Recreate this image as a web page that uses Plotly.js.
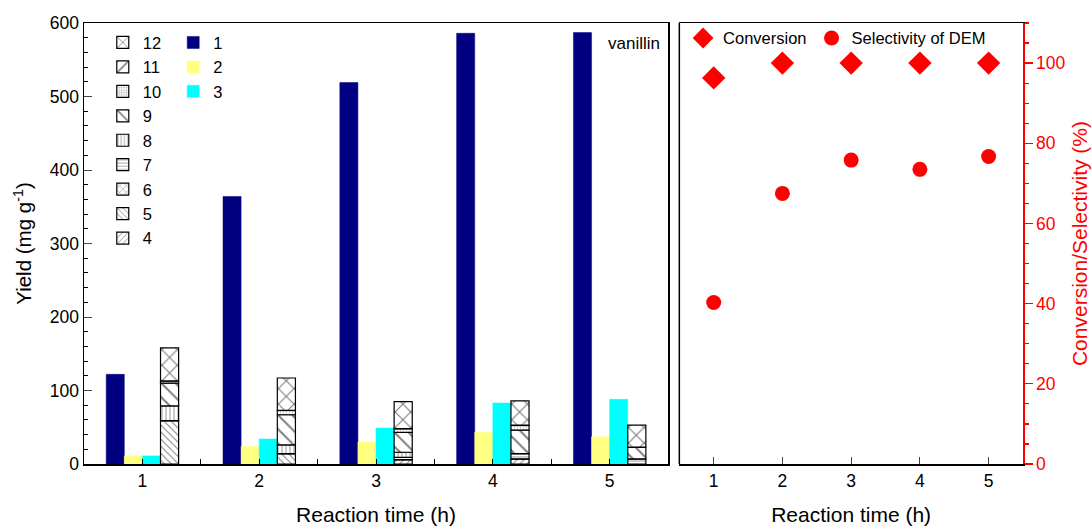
<!DOCTYPE html>
<html>
<head>
<meta charset="utf-8">
<script src="https://cdn.plot.ly/plotly-3.0.1.min.js"></script>
<style>html,body{margin:0;padding:0;background:#fff;}#chart{width:1092px;height:526px;}</style>
</head>
<body>
<div id="chart"></div>
<script>
// Reaction time (h)
const times = [1, 2, 3, 4, 5];
// Yields (mg g^-1) of products 1-3
const y1 = [122, 364, 519, 586, 587];
const y2 = [11, 24, 30, 43, 37];
const y3 = [11, 34, 49, 83, 88];
// Stacked minor products 4-12 (bottom to top)
const y4 = [0, 0, 6, 7, 0];
const y5 = [59, 14, 0, 0, 0];
const y6 = [0, 0, 0, 0, 0];
const y7 = [0, 0, 3, 7, 7];
const y8 = [20, 12, 7, 0, 0];
const y9 = [31, 41, 27, 32, 16];
const y10 = [3, 6, 5, 7, 0];
const y11 = [0, 0, 0, 0, 0];
const y12 = [45, 44, 37, 33, 30];
// Conversion and selectivity (%)
const conversion = [96.3, 100, 100, 100, 100];
const selectivity = [40.3, 67.5, 75.8, 73.5, 76.7];

const stackNames = ['4','5','6','7','8','9','10','11','12'];
const stackData = [y4, y5, y6, y7, y8, y9, y10, y11, y12];
const stackPatterns = [
  {shape: '/', size: 5}, {shape: '\\', size: 5}, {shape: 'x', size: 6},
  {shape: '-', size: 4}, {shape: '|', size: 4}, {shape: '\\', size: 10},
  {shape: '+', size: 3}, {shape: '/', size: 10}, {shape: 'x', size: 11}
];

const W = 0.155;
const font = 'Liberation Sans, Arial, sans-serif';
const traces = [];

const solid = [[y1, '1', '#000080', -2*W], [y2, '2', '#FFFF80', -W], [y3, '3', '#00FFFF', 0]];
solid.forEach(([arr, nm, col, off]) => {
  traces.push({type: 'bar', x: times, y: arr, name: nm, width: W, offset: off,
    marker: {color: col, line: {color: col, width: 0.5}},
    xaxis: 'x', yaxis: 'y', legend: 'legend2'});
});

let base = times.map(() => 0);
stackData.forEach((arr, i) => {
  traces.push({type: 'bar', x: times, y: arr, base: base.slice(), name: stackNames[i],
    width: W, offset: W,
    marker: {color: 'white', line: {color: 'black', width: 1.2},
      pattern: {shape: stackPatterns[i].shape, size: stackPatterns[i].size, solidity: 0.2,
        fgcolor: 'black', bgcolor: 'white', fillmode: 'overlay'}},
    xaxis: 'x', yaxis: 'y', legend: 'legend'});
  base = base.map((b, k) => b + arr[k]);
});

traces.push({type: 'scatter', mode: 'markers', x: times, y: conversion, name: 'Conversion',
  marker: {symbol: 'diamond', size: 18, color: '#FF0000'}, xaxis: 'x2', yaxis: 'y2', legend: 'legend3'});
traces.push({type: 'scatter', mode: 'markers', x: times, y: selectivity, name: 'Selectivity of DEM',
  marker: {symbol: 'circle', size: 15, color: '#FF0000'}, xaxis: 'x2', yaxis: 'y2', legend: 'legend3'});

const layout = {
  width: 1092, height: 526,
  margin: {l: 84, r: 69, t: 23, b: 62},
  paper_bgcolor: 'white', plot_bgcolor: 'white',
  font: {family: font, size: 17, color: 'black'},
  barmode: 'overlay',
  showlegend: true,
  xaxis: {domain: [0, 0.622], range: [0.5, 5.5], tickvals: times, ticktext: times.map(String),
    ticks: 'inside', ticklen: 0, showgrid: false, zeroline: false,
    showline: true, linecolor: 'black', linewidth: 1.5, mirror: true,
    minor: {dtick: 0.5, ticks: 'inside', ticklen: 5, tickcolor: 'black', showgrid: false},
    tickfont: {size: 17.5},
    title: {text: 'Reaction time (h)', font: {size: 21}, standoff: 18}},
  yaxis: {domain: [0, 1], range: [0, 600], dtick: 100, ticks: 'inside', ticklen: 8,
    showgrid: false, zeroline: false, showline: true, linecolor: 'black', linewidth: 1.5, mirror: true,
    minor: {dtick: 20, ticks: 'inside', ticklen: 4, tickcolor: 'black', showgrid: false},
    tickfont: {size: 17.5},
    title: {text: 'Yield (mg g<sup>-1</sup>)', font: {size: 20.5}, standoff: 12}},
  xaxis2: {domain: [0.634, 1], range: [0.5, 5.5], anchor: 'y2', dtick: 1,
    ticks: 'inside', ticklen: 7, showgrid: false, zeroline: false,
    showline: true, linecolor: 'black', linewidth: 1.5, mirror: true,
    tickfont: {size: 17.5},
    title: {text: 'Reaction time (h)', font: {size: 21}, standoff: 18}},
  yaxis2: {domain: [0, 1], range: [0, 110], anchor: 'x2', side: 'right', dtick: 20,
    ticks: 'outside', ticklen: 8, tickcolor: '#FF0000', tickwidth: 1.2,
    showgrid: false, zeroline: false, showline: true, linecolor: '#FF0000', linewidth: 1.5,
    minor: {dtick: 5, ticks: 'outside', ticklen: 4, tickcolor: '#FF0000', showgrid: false},
    tickfont: {size: 17.5, color: '#FF0000'},
    title: {text: 'Conversion/Selectivity (%)', font: {size: 21, color: '#FF0000'}, standoff: 8}},
  legend: {x: 0.02, y: 0.995, xanchor: 'left', yanchor: 'top', traceorder: 'reversed',
    bgcolor: 'rgba(0,0,0,0)', font: {size: 16.5}, itemwidth: 30, tracegroupgap: 0},
  legend2: {x: 0.095, y: 0.995, xanchor: 'left', yanchor: 'top', traceorder: 'normal',
    bgcolor: 'rgba(0,0,0,0)', font: {size: 16.5}, itemwidth: 30},
  legend3: {x: 0.638, y: 1.005, xanchor: 'left', yanchor: 'top', orientation: 'h',
    bgcolor: 'rgba(0,0,0,0)', font: {size: 16.5}, itemwidth: 30},
  shapes: [{type: 'line', xref: 'x2 domain', yref: 'y2 domain', x0: 0, x1: 0, y0: 0, y1: 1,
    line: {color: 'black', width: 1.5}}],
  annotations: [{text: 'vanillin', xref: 'x domain', yref: 'y domain', x: 0.99, y: 0.98,
    xanchor: 'right', yanchor: 'top', showarrow: false, font: {size: 17}}]
};

Plotly.newPlot('chart', traces, layout, {displayModeBar: false, staticPlot: true});
</script>
</body>
</html>
